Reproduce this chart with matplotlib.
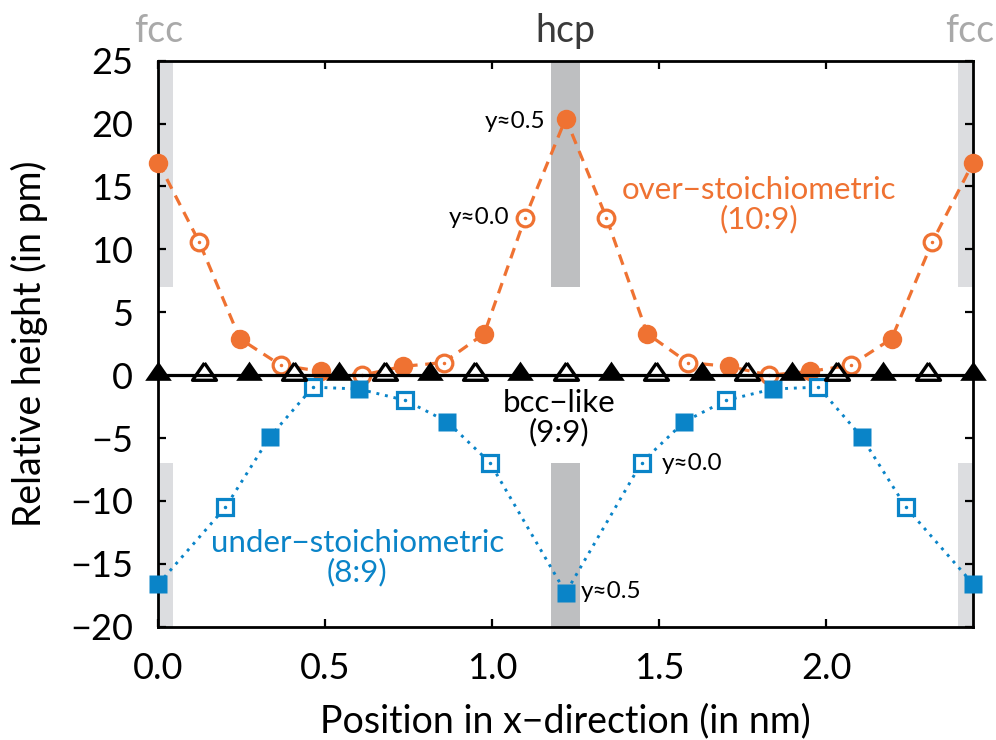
import numpy as np
import matplotlib
matplotlib.use("Agg")
import matplotlib.pyplot as plt

plt.rcParams['font.family'] = ['Lato', 'DejaVu Sans']

# over-stoichiometric (10:9) row, orange circles
over_x = [0.0, 0.122, 0.244, 0.366, 0.488, 0.610, 0.732, 0.854, 0.976, 1.098, 1.220,
          1.342, 1.464, 1.586, 1.708, 1.830, 1.952, 2.074, 2.196, 2.318, 2.440]
over_y = [16.9, 10.6, 2.9, 0.8, 0.3, 0.0, 0.7, 1.0, 3.3, 12.5, 20.4,
          12.5, 3.3, 1.0, 0.7, 0.0, 0.3, 0.8, 2.9, 10.6, 16.9]

# under-stoichiometric (8:9) row, blue squares
under_x = [0.0, 0.201, 0.334, 0.463, 0.600, 0.740, 0.865, 0.993, 1.220,
           1.447, 1.575, 1.700, 1.840, 1.977, 2.106, 2.239, 2.440]
under_y = [-16.6, -10.5, -4.9, -0.95, -1.1, -2.0, -3.7, -6.95, -17.3,
           -6.95, -3.7, -2.0, -1.1, -0.95, -4.9, -10.5, -16.6]

# bcc-like (9:9) row, black triangles
bcc_x = [0.0, 0.136, 0.271, 0.407, 0.542, 0.678, 0.813, 0.949, 1.084, 1.220,
         1.356, 1.491, 1.627, 1.762, 1.898, 2.033, 2.169, 2.304, 2.440]
bcc_y = [0.0] * len(bcc_x)

# stacking regions
site_x = [0.0, 1.22, 2.44]
site_names = ['fcc', 'hcp', 'fcc']
site_colors = ['#a9a9a9', '#3a3a3a', '#a9a9a9']
band_colors = ['#dcdde0', '#bebfc1', '#dcdde0']
band_half = 0.044
band_lo = [-20, -7]
band_hi = [7, 25]

orange = '#ef7232'
blue = '#0a84c8'

fig = plt.figure(figsize=(9.96, 7.40), dpi=100)
ax = fig.add_axes([0.159, 0.153, 0.818, 0.765])

for xc, bc in zip(site_x, band_colors):
    ax.fill_betweenx(band_lo, xc - band_half, xc + band_half, color=bc, lw=0, zorder=0)
    ax.fill_betweenx(band_hi, xc - band_half, xc + band_half, color=bc, lw=0, zorder=0)

for xc, name, col in zip(site_x, site_names, site_colors):
    xt = min(xc, 2.43)
    ax.text(xt, 26.45, name, color=col, fontsize=27, ha='center', va='baseline', clip_on=False)

# orange series
ax.plot(over_x, over_y, color=orange, lw=2.3, ls=(0, (3.4, 2.4)), zorder=2, clip_on=False)
ax.plot(over_x[0::2], over_y[0::2], 'o', color=orange, ms=14, mec='none', zorder=3, clip_on=False)
ax.plot(over_x[1::2], over_y[1::2], 'o', mfc='white', mec=orange, mew=2.3, ms=12, zorder=3, clip_on=False)
ax.plot(over_x[1::2], over_y[1::2], '.', color=orange, ms=3, zorder=4, clip_on=False)

# blue series
ax.plot(under_x, under_y, color=blue, lw=2.1, ls=(0, (1, 2)), zorder=2, clip_on=False)
ax.plot(under_x[0::2], under_y[0::2], 's', color=blue, ms=13, mec='none', zorder=3, clip_on=False)
ax.plot(under_x[1::2], under_y[1::2], 's', mfc='white', mec=blue, mew=2.3, ms=11.5, zorder=3, clip_on=False)
ax.plot(under_x[1::2], under_y[1::2], '.', color=blue, ms=3, zorder=4, clip_on=False)

# black reference row
tri = [(0, 12), (-11.5, -4.6), (11.5, -4.6), (0, 12)]
ax.plot(bcc_x, bcc_y, color='black', lw=2.3, zorder=5, clip_on=False)
ax.plot(bcc_x[0::2], bcc_y[0::2], ls='none', marker=tri, color='black', ms=20, mec='none', zorder=6, clip_on=False)
ax.plot(bcc_x[1::2], bcc_y[1::2], ls='none', marker=tri, mfc='none', mec='black', mew=2.4, ms=18, zorder=6, clip_on=False)

ax.set_xlim(0, 2.44)
ax.set_ylim(-20, 25)
ax.set_xticks([0.0, 0.5, 1.0, 1.5, 2.0])
ax.set_xticklabels(['0.0', '0.5', '1.0', '1.5', '2.0'])
ax.set_yticks(np.arange(-20, 26, 5))
ax.tick_params(direction='in', top=True, right=True, length=6, width=1.6,
               labelsize=26, pad=18)
for s in ax.spines.values():
    s.set_linewidth(2.0)

ax.set_xlabel('Position in x\u2212direction (in nm)', fontsize=27, labelpad=13)
ax.set_ylabel('Relative height (in pm)', fontsize=27, labelpad=16)

# labels
ax.text(1.16, 20.2, 'y\u22480.5', fontsize=17.5, ha='right', va='center')
ax.text(1.05, 12.5, 'y\u22480.0', fontsize=17.5, ha='right', va='center')
ax.text(1.80, 13.55, 'over\u2212stoichiometric\n(10:9)', color=orange, fontsize=22.5,
        ha='center', va='center', linespacing=1.05)
ax.text(1.20, -3.4, 'bcc\u2212like\n(9:9)', color='black', fontsize=22.5,
        ha='center', va='center', linespacing=1.05)
ax.text(0.596, -14.5, 'under\u2212stoichiometric\n(8:9)', color=blue, fontsize=22.5,
        ha='center', va='center', linespacing=1.05)
ax.text(1.507, -7.05, 'y\u22480.0', fontsize=17.5, ha='left', va='center')
ax.text(1.264, -17.2, 'y\u22480.5', fontsize=17.5, ha='left', va='center')

fig.savefig('out.png', dpi=100)
